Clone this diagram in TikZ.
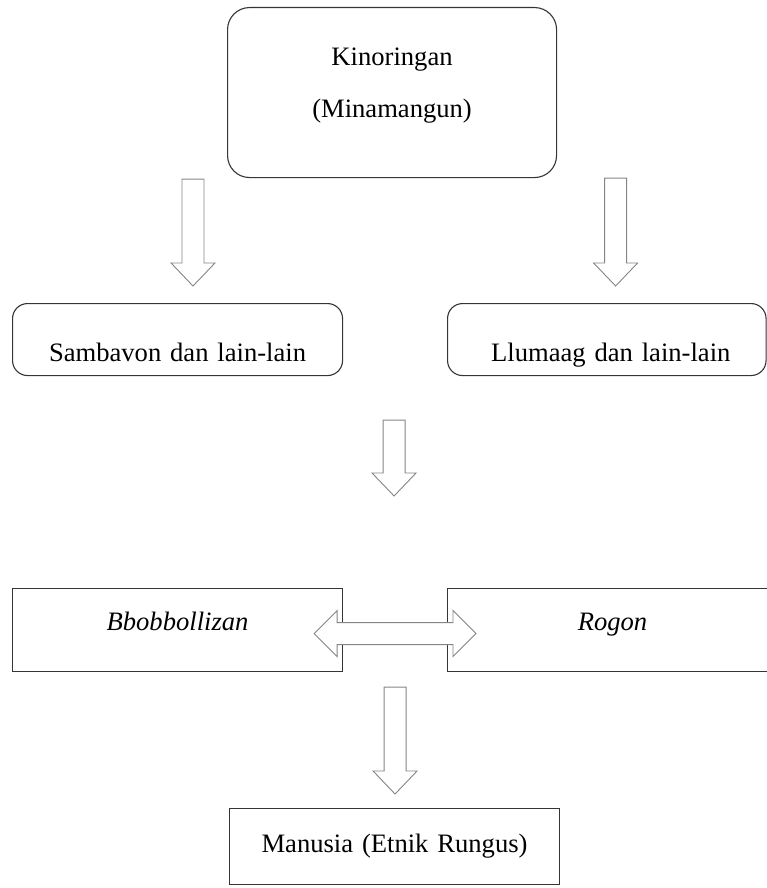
\documentclass[tikz,border=0pt]{standalone}
\usepackage{fontspec}
\setmainfont{Liberation Serif}
\usetikzlibrary{calc}

\definecolor{boxline}{HTML}{353535}
\definecolor{arrowline}{HTML}{858585}

\tikzset{
    box/.style={draw=boxline, line width=1.1pt, inner sep=0pt, align=center,
        anchor=north west, font=\fontsize{26.6}{52}\selectfont},
    roundbox/.style={box, rounded corners=15pt},
    blockarrow/.style={draw=arrowline, fill=white, line width=0.9pt},
    % широкая стрелка вниз: от верха ствола до острия
    blockdown/.style={to path={let \p1=(\tikztostart), \p2=(\tikztotarget) in
        (\x1-11pt,\y1) -- (\x1+11pt,\y1) -- (\x1+11pt,\y2+23pt) -- (\x1+22pt,\y2+23pt)
        -- (\x1,\y2) -- (\x1-22pt,\y2+23pt) -- (\x1-11pt,\y2+23pt) -- cycle}},
    % широкая двойная стрелка: от левого острия до правого
    blockboth/.style={to path={let \p1=(\tikztostart), \p2=(\tikztotarget) in
        (\x1,\y1) -- (\x1+23pt,\y1+23pt) -- (\x1+23pt,\y1+11pt) -- (\x2-23pt,\y1+11pt)
        -- (\x2-23pt,\y1+23pt) -- (\x2,\y1) -- (\x2-23pt,\y1-23pt) -- (\x2-23pt,\y1-11pt)
        -- (\x1+23pt,\y1-11pt) -- (\x1+23pt,\y1-23pt) -- cycle}}
}

\begin{document}
\begin{tikzpicture}[x=1pt, y=1pt]
    % размеры страницы
    \useasboundingbox (0,0) rectangle (767,-888);

    % блоки
    \node[box, rounded corners=22pt, text width=329pt, text height=58pt, text depth=112pt]
        (kino) at (227,-7) {Kinoringan\\(Minamangun)};
    \node[roundbox, text width=330pt, text height=58pt, text depth=14pt]
        (samb) at (12,-303) {Sambavon dan lain-lain};
    \node[roundbox, text width=318.5pt, text height=58pt, text depth=14pt]
        (llum) at (447,-303) {\hspace*{8pt}Llumaag dan lain-lain};
    \node[box, text width=330pt, text height=42pt, text depth=41pt]
        (bbob) at (12,-588) {\itshape Bbobbollizan};
    \node[box, text width=330pt, text height=42pt, text depth=41pt]
        (rogon) at (447,-588) {\itshape Rogon};
    \node[box, text width=330pt, text height=44pt, text depth=32pt]
        (manu) at (229,-808) {Manusia (Etnik Rungus)};

    % стрелки
    \draw[blockarrow] ([xshift=-34pt,yshift=-1pt]kino.south west) to[blockdown] ([yshift=17pt]samb.north);
    \draw[blockarrow] ([xshift=58.5pt]kino.south east) to[blockdown] ([yshift=17pt]llum.north);
    \draw[blockarrow] ($(samb.south east)!.5!(llum.south west)+(-1,-44)$) to[blockdown] ([yshift=92pt]bbob.north);
    \draw[blockarrow] ([xshift=-29pt,yshift=-3.5pt]bbob.east) to[blockboth] ([xshift=29pt]rogon.west);
    \draw[blockarrow] ($(bbob.south east)!.5!(rogon.south west)+(0,-15)$) to[blockdown] ([yshift=14pt]manu.north);
\end{tikzpicture}
\end{document}
